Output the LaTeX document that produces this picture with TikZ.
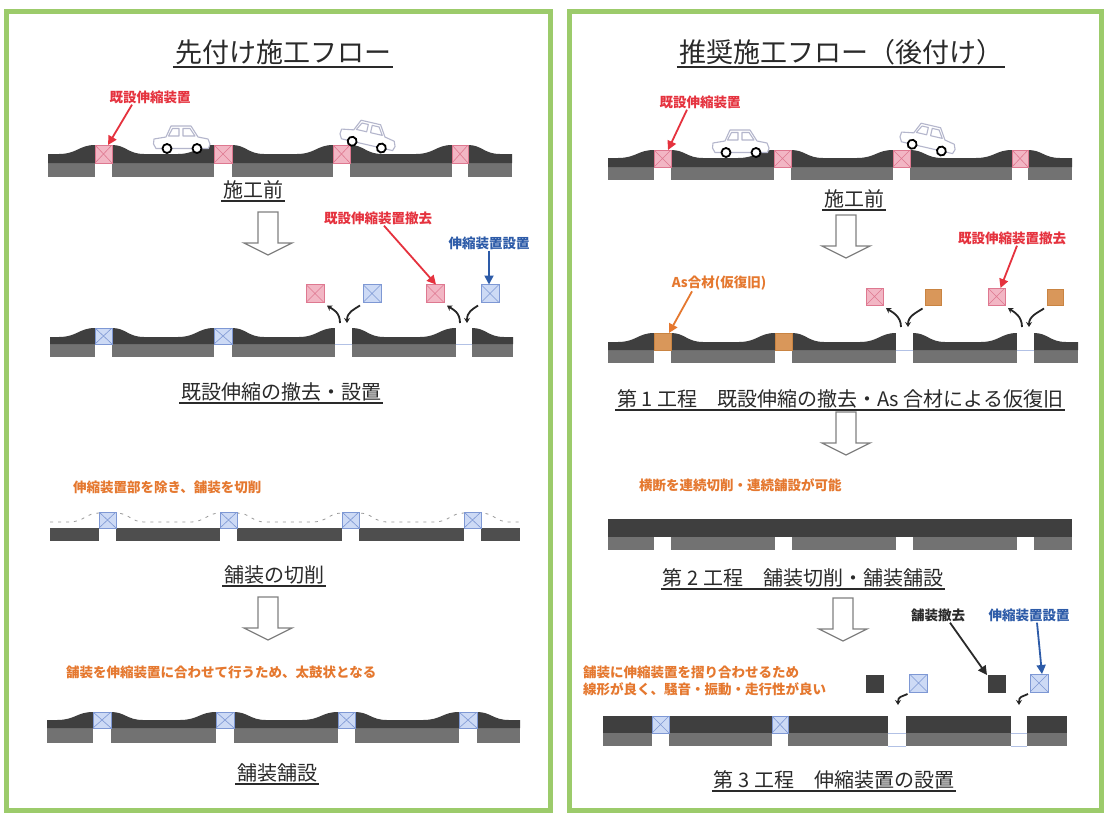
\documentclass[tikz,border=0pt]{standalone}
\usepackage{fontspec}
\newfontfamily\cjk{Noto Sans CJK JP}
\usetikzlibrary{arrows.meta}

\definecolor{panelgreen}{HTML}{9CCB6B}
\definecolor{asphalt}{HTML}{3F3F3F}
\definecolor{base}{HTML}{727272}
\definecolor{cutgray}{HTML}{4E4E4E}
\definecolor{pinkfill}{HTML}{F2B6C4}
\definecolor{pinkline}{HTML}{DE7890}
\definecolor{bluefill}{HTML}{CDDAF5}
\definecolor{blueline}{HTML}{7E98D4}
\definecolor{orfill}{HTML}{D9975A}
\definecolor{orline}{HTML}{C98442}
\definecolor{redtxt}{HTML}{E5323E}
\definecolor{bluetxt}{HTML}{2D5BA8}
\definecolor{ortxt}{HTML}{E5782F}
\definecolor{inktxt}{HTML}{2A2A2A}
\definecolor{carblue}{HTML}{B4B6CC}

% road section: xL, xR, hump top, flat top, layer boundary, bottom, joints {x1/x2,...}
\newcommand\roadrow[7]{%
  \fill[base] (#1,#5) rectangle (#2,#6);
  \fill[asphalt] (#1,#5) -- (#1,#4)
    \foreach \ja/\jb in {#7} {
      -- ({\ja-36},#4) .. controls ({\ja-18},#4) and ({\ja-16},#3) .. (\ja,#3)
      -- (\jb,#3) .. controls ({\jb+14},#3) and ({\jb+16},#4) .. ({\jb+32},#4) }
    -- (#2,#4) -- (#2,#5) -- cycle;
}
% expansion joint: name, style, x1, x2, top, boundary, bottom
\newcommand\jointbox[7]{%
  \fill[white] (#3,#6) rectangle (#4,#7);
  \node[#2, anchor=north west, minimum width={(#4-#3)*1pt},
        minimum height={(#6-#5)*1pt}] (#1) at (#3,#5) {};
}
\newcommand\ulnode[1]{\draw[steprule] (#1.south west) -- (#1.south east);}

\begin{document}
\begin{tikzpicture}[x=1pt,y=-1pt,
  panelframe/.style={draw=panelgreen, line width=5pt},
  ttl/.style={font=\cjk\fontsize{27}{30}\selectfont, text=inktxt, inner sep=2pt},
  ttlrule/.style={draw=inktxt, line width=2pt},
  stepttl/.style={font=\cjk\fontsize{20}{24}\selectfont, text=inktxt, inner sep=1.5pt},
  steprule/.style={draw=inktxt, line width=1.3pt},
  tag/.style={font=\cjk\bfseries\fontsize{13.5}{16}\selectfont, inner sep=1pt},
  note/.style={font=\cjk\bfseries\fontsize{13.5}{17}\selectfont, text=ortxt, inner sep=1pt},
  jcross/.style={path picture={\draw[#1, line width=0.6pt]
      (path picture bounding box.north west) -- (path picture bounding box.south east)
      (path picture bounding box.south west) -- (path picture bounding box.north east);}},
  pinkj/.style={rectangle, inner sep=0pt, outer sep=0pt, fill=pinkfill, draw=pinkline, line width=0.5pt, jcross=pinkline},
  bluej/.style={rectangle, inner sep=0pt, outer sep=0pt, fill=bluefill, draw=blueline, line width=0.5pt, jcross=blueline},
  orj/.style={rectangle, inner sep=0pt, outer sep=0pt, fill=orfill, draw=orline, line width=0.5pt},
  darkj/.style={rectangle, inner sep=0pt, outer sep=0pt, fill=asphalt, draw=asphalt, line width=0.5pt},
  box16/.style={minimum width=16pt, minimum height=16pt},
  box17/.style={minimum width=17pt, minimum height=17pt},
  box18/.style={minimum width=18pt, minimum height=18pt},
  redarr/.style={draw=redtxt, line width=1.8pt, -{Triangle[length=9pt,width=9pt]}},
  bluearr/.style={draw=bluetxt, line width=1.8pt, -{Triangle[length=9pt,width=9pt]}},
  orarr/.style={draw=ortxt, line width=1.8pt, -{Triangle[length=9pt,width=9pt]}},
  inkarr/.style={draw=inktxt, line width=1.8pt, -{Triangle[length=9pt,width=9pt]}},
  curarr/.style={draw=black!85, line width=1.8pt, -{Stealth[length=5pt,width=6pt]}},
  gapline/.style={draw=blueline!60, line width=0.7pt},
  dashprof/.style={draw=black!40, line width=0.8pt, dash pattern=on 3pt off 5pt},
  flowline/.style={draw=black!50, line width=1.3pt, fill=white, line join=miter},
  carline/.style={draw=carblue, line width=1.1pt, fill=white, line join=round},
  wheel/.style={draw=black, line width=1.8pt, fill=white},
  car/.pic={
    \draw[carline] (3,-4.5) -- (0.5,-9) -- (1,-14) -- (13,-16) -- (18,-27) -- (38,-27)
      -- (45,-16) -- (55,-14) -- (57,-9) -- (55.5,-4.5) -- cycle;
    \draw[carline] (19.5,-24.5) -- (26,-24.5) -- (26,-17) -- (15.5,-17) -- cycle;
    \draw[carline] (30,-24.5) -- (37,-24.5) -- (42,-17) -- (30,-17) -- cycle;
    \draw[wheel] (14,-4.5) circle[radius=4.5pt];
    \draw[wheel] (44,-4.5) circle[radius=4.5pt];
  },
  flowarrow/.pic={
    \draw[flowline] (-10,0) -- (10,0) -- (10,31) -- (24,31) -- (0,43) -- (-24,31) -- (-10,31) -- cycle;
  }
]
\useasboundingbox (0,0) rectangle (1106,814);
\fill[white] (0,0) rectangle (1106,814);

%% ================= left panel: joints laid first =================
\draw[panelframe] (6,11) rectangle (550,810);
\node[ttl] (Ltitle) at (283,52) {先付け施工フロー};
\draw[ttlrule] (Ltitle.south west) -- (Ltitle.south east);

% before works
\roadrow{48}{512}{145}{154}{163}{177}{95/112,214/232,333/350,452/468}
\jointbox{La1}{pinkj}{95}{112}{145}{163}{177}
\jointbox{La2}{pinkj}{214}{232}{145}{163}{177}
\jointbox{La3}{pinkj}{333}{350}{145}{163}{177}
\jointbox{La4}{pinkj}{452}{468}{145}{163}{177}
\pic (Lcar1) at (153,153) {car};
\pic[rotate=-13] (Lcar2) at (337.5,142.5) {car};
\node[tag, text=redtxt] (Lexist) at (150,97) {既設伸縮装置};
\draw[redarr] ([xshift=-18pt]Lexist.south) -- ([xshift=-4pt]La1.north east);
\node[stepttl] (Lbefore) at (253,190) {施工前};
\ulnode{Lbefore}
\pic at (268,212) {flowarrow};

% removal and installation of joints
\roadrow{50}{513}{328}{337}{344}{357}{95/112,214/232,335/352,456/472}
\jointbox{Lb1}{bluej}{95}{112}{328}{344}{357}
\jointbox{Lb2}{bluej}{214}{232}{328}{344}{357}
\fill[white] (335,325) rectangle (352,358);
\draw[gapline] (335,344) -- (352,344);
\fill[white] (456,325) rectangle (472,358);
\draw[gapline] (456,344) -- (472,344);
\node[pinkj, box18] (Lout1) at (315,293.5) {};
\node[bluej, box18] (Lin1) at (372,293.5) {};
\node[pinkj, box18] (Lout2) at (435,293.5) {};
\node[bluej, box18] (Lin2) at (490,293.5) {};
\coordinate (Lg1l) at (340,323);
\coordinate (Lg1r) at (347,323);
\coordinate (Lg2l) at (460,323);
\coordinate (Lg2r) at (467,323);
\draw[curarr] (Lg1l) .. controls +(0,-11) and +(6,4) .. ([xshift=3pt,yshift=-3pt]Lout1.south east);
\draw[curarr] ([xshift=-3pt,yshift=-3pt]Lin1.south west) .. controls +(-6,4) and +(0,-11) .. (Lg1r);
\draw[curarr] (Lg2l) .. controls +(0,-11) and +(6,4) .. ([xshift=3pt,yshift=-3pt]Lout2.south east);
\draw[curarr] ([xshift=-3pt,yshift=-3pt]Lin2.south west) .. controls +(-6,4) and +(0,-11) .. (Lg2r);
\node[tag, text=redtxt] (Lremove) at (378,218) {既設伸縮装置撤去};
\draw[redarr] ([xshift=6pt]Lremove.south) -- ([xshift=1pt]Lout2.north);
\node[tag, text=bluetxt] (Lset) at (489,243) {伸縮装置設置};
\draw[bluearr] (Lset.south) -- (Lset.south |- Lin2.north);
\node[stepttl] (Lstep1) at (281,392) {既設伸縮の撤去・設置};
\ulnode{Lstep1}

% milling
\node[note, anchor=west] (Lnote3) at (72,487) {伸縮装置部を除き、舗装を切削};
\draw[dashprof] (50,522)
  \foreach \ja/\jb in {99/116,220/237,342/359,464/481} {
    -- ({\ja-30},522) .. controls ({\ja-15},522) and ({\ja-13},513) .. (\ja,513)
    -- (\jb,513) .. controls ({\jb+13},513) and ({\jb+15},522) .. ({\jb+28},522) }
  -- (520,522);
\fill[cutgray] (50,528) rectangle (520,541);
\jointbox{Lc1}{bluej}{99}{116}{512}{528}{541}
\jointbox{Lc2}{bluej}{220}{237}{512}{528}{541}
\jointbox{Lc3}{bluej}{342}{359}{512}{528}{541}
\jointbox{Lc4}{bluej}{464}{481}{512}{528}{541}
\node[stepttl] (Lstep2) at (274,575) {舗装の切削};
\ulnode{Lstep2}
\pic at (268,597) {flowarrow};

% paving
\node[note, anchor=west] (Lnote4) at (65,672) {舗装を伸縮装置に合わせて行うため、太鼓状となる};
\roadrow{47}{520}{712}{720}{728}{743}{93/111,216/234,338/355,459/477}
\jointbox{Ld1}{bluej}{93}{111}{712}{728}{743}
\jointbox{Ld2}{bluej}{216}{234}{712}{728}{743}
\jointbox{Ld3}{bluej}{338}{355}{712}{728}{743}
\jointbox{Ld4}{bluej}{459}{477}{712}{728}{743}
\node[stepttl] (Lstep3) at (277,773) {舗装舗設};
\ulnode{Lstep3}

%% ================= right panel: joints set last =================
\draw[panelframe] (569,11) rectangle (1101,810);
\node[ttl] (Rtitle) at (841,52) {推奨施工フロー（後付け）};
\draw[ttlrule] (Rtitle.south west) -- (Rtitle.south east);

% before works
\roadrow{608}{1072}{150}{158}{167}{180}{654/671,774/791,893/910,1012/1028}
\jointbox{Ra1}{pinkj}{654}{671}{150}{167}{180}
\jointbox{Ra2}{pinkj}{774}{791}{150}{167}{180}
\jointbox{Ra3}{pinkj}{893}{910}{150}{167}{180}
\jointbox{Ra4}{pinkj}{1012}{1028}{150}{167}{180}
\pic (Rcar1) at (712,157) {car};
\pic[rotate=-13] (Rcar2) at (897.5,145.5) {car};
\node[tag, text=redtxt] (Rexist) at (700,102) {既設伸縮装置};
\draw[redarr] ([xshift=-13pt]Rexist.south) -- ([xshift=-3pt]Ra1.north east);
\node[stepttl] (Rbefore) at (854,199) {施工前};
\ulnode{Rbefore}
\pic at (846,215) {flowarrow};

% step 1: removal and temporary asphalt
\roadrow{608}{1078}{333}{342}{350}{363}{654/671,775/792,896/913,1017/1034}
\jointbox{Rb1}{orj}{654}{671}{333}{350}{363}
\jointbox{Rb2}{orj}{775}{792}{333}{350}{363}
\fill[white] (896,330) rectangle (913,364);
\draw[gapline] (896,350) -- (913,350);
\fill[white] (1017,330) rectangle (1034,364);
\draw[gapline] (1017,350) -- (1034,350);
\node[pinkj, box17] (Rout1) at (874.5,296.5) {};
\node[orj, box16] (Rin1) at (933.5,297.5) {};
\node[pinkj, box17] (Rout2) at (996.5,296.5) {};
\node[orj, box16] (Rin2) at (1055,297.5) {};
\coordinate (Rg1l) at (901,327);
\coordinate (Rg1r) at (908,327);
\coordinate (Rg2l) at (1022,327);
\coordinate (Rg2r) at (1029,327);
\draw[curarr] (Rg1l) .. controls +(0,-11) and +(6,4) .. ([xshift=3pt,yshift=-3pt]Rout1.south east);
\draw[curarr] ([xshift=-3pt,yshift=-3pt]Rin1.south west) .. controls +(-6,4) and +(0,-11) .. (Rg1r);
\draw[curarr] (Rg2l) .. controls +(0,-11) and +(6,4) .. ([xshift=3pt,yshift=-3pt]Rout2.south east);
\draw[curarr] ([xshift=-3pt,yshift=-3pt]Rin2.south west) .. controls +(-6,4) and +(0,-11) .. (Rg2r);
\node[tag, text=ortxt] (Ras) at (719,283) {As合材(仮復旧)};
\draw[orarr] ([xshift=-27pt]Ras.south) -- ([xshift=-2pt]Rb1.north east);
\node[tag, text=redtxt] (Rremove) at (1012,238) {既設伸縮装置撤去};
\draw[redarr] ([xshift=5pt]Rremove.south) -- ([xshift=4pt]Rout2.north);
\node[stepttl] (Rstep1) at (840,399) {第 1 工程　既設伸縮の撤去・As 合材による仮復旧};
\ulnode{Rstep1}
\pic at (846,412) {flowarrow};

% step 2: continuous milling and paving
\node[note, anchor=west] (Rnote3) at (638,485) {横断を連続切削・連続舗設が可能};
\fill[asphalt] (608,519) rectangle (1072,537);
\fill[base] (608,537) rectangle (1072,550);
\fill[white] (654,537) rectangle (671,550);
\fill[white] (775,537) rectangle (792,550);
\fill[white] (896,537) rectangle (913,550);
\fill[white] (1017,537) rectangle (1034,550);
\node[stepttl] (Rstep2) at (803,578) {第 2 工程　舗装切削・舗装舗設};
\ulnode{Rstep2}
\pic at (843,598) {flowarrow};

% step 3: installing joints
\node[note, anchor=west, align=left] (Rnote4) at (582,680.5) {舗装に伸縮装置を摺り合わせるため\\線形が良く、騒音・振動・走行性が良い};
\fill[base] (603,733) rectangle (1067,746);
\fill[asphalt] (603,716) rectangle (1067,733);
\jointbox{Rd1}{bluej}{652}{669}{716}{733}{746}
\jointbox{Rd2}{bluej}{772}{788}{716}{733}{746}
\fill[white] (888,714) rectangle (906,748);
\draw[gapline] (888,733) -- (906,733) (888,746) -- (906,746);
\fill[white] (1011,714) rectangle (1027,748);
\draw[gapline] (1011,733) -- (1027,733) (1011,746) -- (1027,746);
\node[darkj, box17] (Rcut1) at (875,683.5) {};
\node[bluej, box18] (Rnew1) at (918.5,683) {};
\node[darkj, box17] (Rcut2) at (996.5,683.5) {};
\node[bluej, box18] (Rnew2) at (1039,683) {};
\coordinate (Rg3) at (898,705);
\coordinate (Rg4) at (1019,705);
\draw[curarr] ([xshift=-2pt,yshift=-2pt]Rnew1.south west) .. controls +(-6,3) and +(0,-9) .. (Rg3);
\draw[curarr] ([xshift=-2pt,yshift=-2pt]Rnew2.south west) .. controls +(-6,3) and +(0,-9) .. (Rg4);
\node[tag, text=inktxt] (Rcutlbl) at (938,615) {舗装撤去};
\draw[inkarr] ([xshift=12pt]Rcutlbl.south) -- ([xshift=-1pt]Rcut2.north west);
\node[tag, text=bluetxt] (Rsetlbl) at (1029,615) {伸縮装置設置};
\draw[bluearr] ([xshift=8pt]Rsetlbl.south) -- ([xshift=3pt]Rnew2.north);
\node[stepttl] (Rstep3) at (834,780) {第 3 工程　伸縮装置の設置};
\ulnode{Rstep3}
\end{tikzpicture}
\end{document}
